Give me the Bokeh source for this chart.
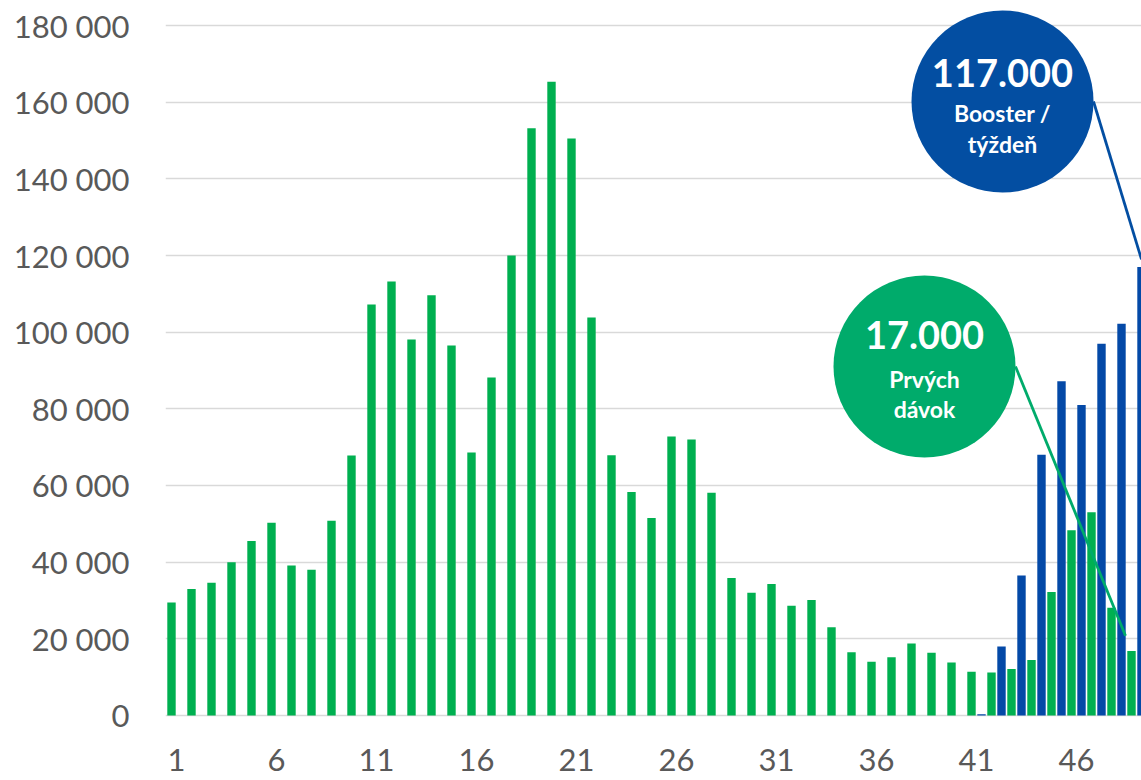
from bokeh.plotting import figure
from bokeh.models import ColumnDataSource, FixedTicker, Range1d
from bokeh.transform import dodge
from bokeh.core.properties import value
from bokeh.embed import file_html
from bokeh.resources import INLINE

# ---- data -------------------------------------------------------------
weeks = list(range(1, 50))
first_doses = [29500, 33000, 34600, 40000, 45500, 50300, 39100, 38000, 50800, 67800,
               107200, 113200, 98100, 109600, 96500, 68600, 88200, 120000, 153200, 165300,
               150500, 103800, 67900, 58300, 51500, 72800, 72000, 58100, 35900, 32000,
               34300, 28600, 30100, 23000, 16500, 14000, 15200, 18800, 16400, 13800,
               11400, 11200, 12100, 14500, 32200, 48300, 53000, 28100, 16800]
booster_weeks = [41, 42, 43, 44, 45, 46, 47, 48, 49]
boosters = [300, 18000, 36500, 68000, 87200, 81000, 97000, 102200, 117000]

x_ticks = [1, 6, 11, 16, 21, 26, 31, 36, 41, 46]
x_tick_labels = ["1", "6", "11", "16", "21", "26", "31", "36", "41", "46"]
y_ticks = [0, 20000, 40000, 60000, 80000, 100000, 120000, 140000, 160000, 180000]
y_tick_labels = ["0", "20 000", "40 000", "60 000", "80 000", "100 000",
                 "120 000", "140 000", "160 000", "180 000"]

callout_booster = ["117.000", "Booster /", "týždeň"]
callout_first = ["17.000", "Prvých", "dávok"]

# ---- style ------------------------------------------------------------
GREEN = "#00B050"
BLUE = "#0449A7"
BUBBLE_GREEN = "#00AB6B"
BUBBLE_BLUE = "#034EA2"
GREY = "#595959"
GRID = "#D9D9D9"
FONT = "Lato"

# frame: top at page y=0, zero line at y=715, frame bottom at y=740
p = figure(width=1141, height=780,
           x_range=Range1d(0.45, 49.25), y_range=Range1d(-6522, 186522),
           output_backend="svg", toolbar_location=None,
           min_border_left=165, min_border_right=0,
           min_border_top=0, min_border_bottom=40)
p.outline_line_color = None
p.background_fill_color = "white"

src_g = ColumnDataSource(dict(week=weeks, value=first_doses))
src_b = ColumnDataSource(dict(week=booster_weeks, value=boosters))

p.vbar(x=dodge("week", -0.25, range=p.x_range), top="value", bottom=0, width=0.42,
       source=src_g, color=GREEN, line_color=None)
p.vbar(x=dodge("week", 0.25, range=p.x_range), top="value", bottom=0, width=0.42,
       source=src_b, color=BLUE, line_color=None)

# axes
p.xaxis.ticker = FixedTicker(ticks=x_ticks)
p.xaxis.major_label_overrides = {t: l for t, l in zip(x_ticks, x_tick_labels)}
p.yaxis.ticker = FixedTicker(ticks=y_ticks)
p.yaxis.major_label_overrides = {t: l for t, l in zip(y_ticks, y_tick_labels)}
for ax in (p.xaxis, p.yaxis):
    ax.axis_line_color = None
    ax.major_tick_line_color = None
    ax.minor_tick_line_color = None
    ax.major_tick_out = 0
    ax.major_tick_in = 0
    ax.major_label_text_font = FONT
    ax.major_label_text_font_size = "31px"
    ax.major_label_text_color = GREY
p.yaxis.major_label_standoff = 36
p.xaxis.major_label_standoff = 8

p.xgrid.grid_line_color = None
p.ygrid.ticker = FixedTicker(ticks=y_ticks)
p.ygrid.grid_line_color = GRID
p.ygrid.grid_line_width = 1.6

# callouts (bubble centre in data units, leader line to the bar it describes)
def callout(cx, cy, lx0, lx1, ly1, color, lines, offs):
    p.line([lx0, lx1], [cy, ly1], line_color=color, line_width=2.8)
    p.scatter([cx], [cy], marker="circle", size=182, fill_color=color, line_color=None)
    sizes = ["38px", "23px", "23px"]
    for txt, off, sz in zip(lines, offs, sizes):
        p.text(x=[cx], y=[cy], text=[txt], text_font=value(FONT), text_font_style="bold",
               text_font_size=sz, text_color="white", text_align="center",
               text_baseline="alphabetic", y_offset=off)

callout(42.3, 160170, 46.85, booster_weeks[-1] + 0.25, boosters[-1] + 2000,
        BUBBLE_BLUE, callout_booster, [-29, 11, 42])
callout(38.4, 91040, 42.95, weeks[-1] - 0.55, first_doses[-1] + 4000,
        BUBBLE_GREEN, callout_first, [-32, 12, 42])

open("out.html", "w").write(file_html(p, INLINE))
